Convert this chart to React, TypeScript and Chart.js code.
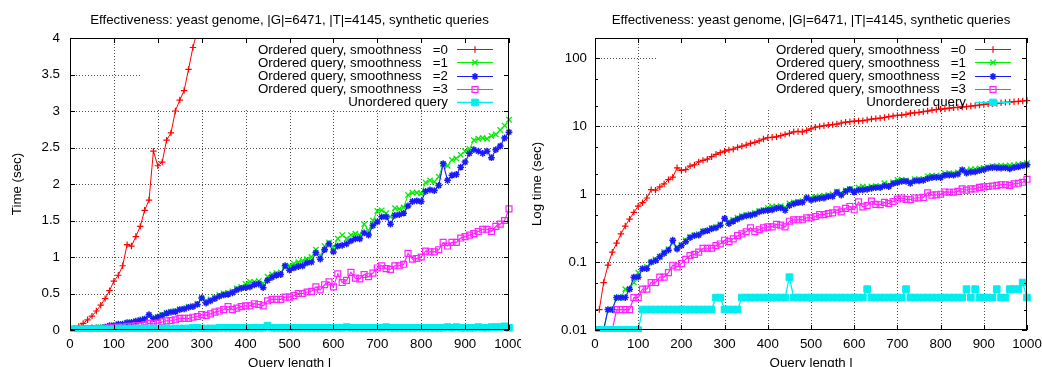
import React, { useEffect, useRef } from "react";
import { Chart, registerables } from "chart.js";

Chart.register(...registerables);

const FONT = '"Liberation Sans", Arial, Helvetica, sans-serif';
const FSIZE = 13.3;

const chartTitle = "Effectiveness: yeast genome, |G|=6471, |T|=4145, synthetic queries";
const xAxisTitle = "Query length l";
const yTitleLinear = "Time (sec)";
const yTitleLog = "Log time (sec)";

const queryLength = [
  10, 20, 30, 40, 50, 60, 70, 80, 90, 100,
  110, 120, 130, 140, 150, 160, 170, 180, 190, 200,
  210, 220, 230, 240, 250, 260, 270, 280, 290, 300,
  310, 320, 330, 340, 350, 360, 370, 380, 390, 400,
  410, 420, 430, 440, 450, 460, 470, 480, 490, 500,
  510, 520, 530, 540, 550, 560, 570, 580, 590, 600,
  610, 620, 630, 640, 650, 660, 670, 680, 690, 700,
  710, 720, 730, 740, 750, 760, 770, 780, 790, 800,
  810, 820, 830, 840, 850, 860, 870, 880, 890, 900,
  910, 920, 930, 940, 950, 960, 970, 980, 990, 1000,
];

const smoothness0 = [
  0.02, 0.05, 0.09, 0.14, 0.19, 0.26, 0.34, 0.43, 0.54, 0.67,
  0.75, 0.88, 1.17, 1.15, 1.28, 1.42, 1.64, 1.78, 2.45, 2.25,
  2.3, 2.6, 2.7, 3.0, 3.15, 3.28, 3.57, 3.87, 4.1, 4.3,
  4.5, 4.6, 4.9, 5.1, 5.3, 5.6, 5.8, 6.1, 6.5, 6.8,
  6.9, 7.0, 7.3, 7.6, 7.9, 8.3, 8.4, 8.3, 8.7, 9.2,
  9.7, 10.0, 10.2, 10.4, 10.6, 10.8, 11.2, 11.5, 11.7, 11.9,
  12.0, 12.1, 12.4, 12.8, 13.0, 13.2, 13.5, 13.9, 14.2, 14.5,
  14.6, 15.0, 15.6, 15.8, 16.1, 16.4, 16.8, 17.3, 17.6, 17.9,
  18.1, 18.5, 18.8, 19.0, 19.3, 19.5, 19.9, 20.2, 20.6, 21.0,
  21.2, 21.5, 21.8, 22.2, 22.5, 22.8, 23.0, 23.3, 23.6, 24.0,
];

const smoothness1 = [
  0.01, 0.01, 0.02, 0.02, 0.03, 0.03, 0.04, 0.04, 0.05, 0.07,
  0.08, 0.085, 0.1, 0.11, 0.12, 0.14, 0.155, 0.19, 0.165, 0.18,
  0.21, 0.235, 0.25, 0.26, 0.285, 0.29, 0.32, 0.33, 0.36, 0.43,
  0.4, 0.42, 0.45, 0.48, 0.5, 0.51, 0.53, 0.57, 0.59, 0.63,
  0.66, 0.66, 0.67, 0.64, 0.73, 0.76, 0.78, 0.79, 0.87, 0.88,
  0.91, 0.93, 0.95, 0.97, 1.0, 1.1, 1.02, 1.15, 1.2, 1.13,
  1.25, 1.3, 1.25, 1.3, 1.32, 1.3, 1.45, 1.36, 1.5, 1.63,
  1.64, 1.6, 1.55, 1.67, 1.66, 1.68, 1.85, 1.88, 1.88, 1.87,
  2.02, 2.05, 2.03, 2.1, 2.27, 2.25, 2.33, 2.35, 2.4, 2.45,
  2.48, 2.6, 2.62, 2.63, 2.62, 2.66, 2.68, 2.74, 2.8, 2.88,
];

const smoothness2 = [
  0.01, 0.01, 0.02, 0.02, 0.03, 0.03, 0.03, 0.04, 0.06, 0.06,
  0.08, 0.08, 0.1, 0.105, 0.12, 0.135, 0.15, 0.21, 0.156, 0.175,
  0.2, 0.23, 0.245, 0.25, 0.28, 0.29, 0.31, 0.32, 0.35, 0.44,
  0.37, 0.4, 0.43, 0.46, 0.48, 0.49, 0.51, 0.55, 0.57, 0.58,
  0.59, 0.62, 0.63, 0.58, 0.68, 0.72, 0.75, 0.76, 0.88, 0.82,
  0.85, 0.87, 0.88, 0.92, 0.93, 1.06, 0.97, 1.1, 1.18, 1.07,
  1.15, 1.16, 1.18, 1.22, 1.25, 1.25, 1.33, 1.3, 1.43, 1.48,
  1.55, 1.55, 1.45, 1.57, 1.58, 1.6, 1.7, 1.76, 1.77, 1.76,
  1.9, 1.92, 1.91, 1.98, 2.28, 2.05, 2.12, 2.13, 2.23, 2.3,
  2.42, 2.47, 2.45, 2.42, 2.45, 2.36, 2.47, 2.52, 2.63, 2.71,
];

const smoothness3 = [
  0.01, 0.01, 0.01, 0.01, 0.02, 0.02, 0.02, 0.02, 0.03, 0.03,
  0.04, 0.04, 0.05, 0.05, 0.06, 0.06, 0.07, 0.09, 0.085, 0.095,
  0.11, 0.125, 0.13, 0.14, 0.16, 0.16, 0.16, 0.175, 0.185, 0.21,
  0.2, 0.22, 0.245, 0.26, 0.28, 0.32, 0.28, 0.3, 0.32, 0.33,
  0.33, 0.36, 0.35, 0.33, 0.4, 0.42, 0.42, 0.42, 0.45, 0.45,
  0.47, 0.5, 0.5, 0.52, 0.53, 0.59, 0.55, 0.62, 0.66, 0.59,
  0.77, 0.65, 0.68, 0.79, 0.71, 0.7, 0.76, 0.73, 0.78, 0.85,
  0.88, 0.84, 0.83, 0.88, 0.88, 0.9, 1.05, 0.97, 0.98, 1.0,
  1.08, 1.07, 1.07, 1.1, 1.2, 1.15, 1.2, 1.2, 1.26, 1.28,
  1.3, 1.32, 1.35, 1.38, 1.38, 1.35, 1.42, 1.45, 1.5, 1.66,
];

const unorderedQuery = [
  0.01, 0.01, 0.01, 0.01, 0.01, 0.01, 0.01, 0.01, 0.01, 0.01,
  0.02, 0.02, 0.02, 0.02, 0.02, 0.02, 0.02, 0.02, 0.02, 0.02,
  0.02, 0.02, 0.02, 0.02, 0.02, 0.02, 0.02, 0.03, 0.03, 0.02,
  0.02, 0.02, 0.02, 0.03, 0.03, 0.03, 0.03, 0.03, 0.03, 0.03,
  0.03, 0.03, 0.03, 0.03, 0.06, 0.03, 0.03, 0.03, 0.03, 0.03,
  0.03, 0.03, 0.03, 0.03, 0.03, 0.03, 0.03, 0.03, 0.03, 0.03,
  0.03, 0.03, 0.04, 0.03, 0.03, 0.03, 0.03, 0.03, 0.03, 0.03,
  0.03, 0.04, 0.03, 0.03, 0.03, 0.03, 0.03, 0.03, 0.03, 0.03,
  0.03, 0.03, 0.03, 0.03, 0.03, 0.04, 0.03, 0.04, 0.03, 0.03,
  0.03, 0.03, 0.04, 0.03, 0.03, 0.04, 0.04, 0.04, 0.05, 0.03,
];

const seriesLabels = [
  "Ordered query, smoothness   =0",
  "Ordered query, smoothness   =1",
  "Ordered query, smoothness   =2",
  "Ordered query, smoothness   =3",
  "Unordered query",
];
const seriesValues = [smoothness0, smoothness1, smoothness2, smoothness3, unorderedQuery];

const xTickValues = [0, 100, 200, 300, 400, 500, 600, 700, 800, 900, 1000];
const linearYTicks = [0, 0.5, 1, 1.5, 2, 2.5, 3, 3.5, 4];
const logYTicks = [0.01, 0.1, 1, 10, 100];
const logMinorTicks = [0.02, 0.05, 0.2, 0.5, 2, 5, 20, 50];

// styling (not data)
const seriesColors = ["#ff0000", "#00ee00", "#1a1aff", "#ff22ff", "#00eeee"];
const seriesPoint = ["cross", "crossRot", "star", "rect", "rect"];
const seriesRadius = [3.2, 3.8, 3.4, 4.2, 4.7];
const seriesFilled = [false, false, false, false, true];
const seriesPointWidth = [1.2, 1.3, 1.5, 1.2, 1];
const seriesLineWidth = [1, 1, 1.1, 1.2, 1.3];

function drawMarker(ctx: CanvasRenderingContext2D, style: string, x: number, y: number, r: number, color: string, filled: boolean, lw: number) {
  ctx.save();
  ctx.strokeStyle = color;
  ctx.fillStyle = color;
  ctx.lineWidth = lw;
  ctx.beginPath();
  if (style === "cross" || style === "star") {
    ctx.moveTo(x - r, y);
    ctx.lineTo(x + r, y);
    ctx.moveTo(x, y - r);
    ctx.lineTo(x, y + r);
  }
  if (style === "crossRot" || style === "star") {
    const d = r * Math.SQRT1_2;
    ctx.moveTo(x - d, y - d);
    ctx.lineTo(x + d, y + d);
    ctx.moveTo(x - d, y + d);
    ctx.lineTo(x + d, y - d);
  }
  if (style === "rect") {
    const s = r * Math.SQRT1_2;
    ctx.rect(x - s, y - s, 2 * s, 2 * s);
    if (filled) ctx.fill();
  }
  ctx.stroke();
  ctx.restore();
}

type PanelCfg = {
  yTitle: string;
  yTitleX: number;
  majorY: number[];
  minorY: number[];
  keyWidth: number;
};

function makePlugin(cfg: PanelCfg) {
  return {
    id: "gnuplotLook",
    beforeDatasetsDraw(chart: any) {
      const { ctx, chartArea: a, scales } = chart;
      const xs = scales.x;
      const ys = scales.y;
      ctx.save();
      ctx.strokeStyle = "rgba(0,0,0,0.7)";
      ctx.lineWidth = 1;
      ctx.setLineDash([1, 2]);
      ctx.beginPath();
      for (const v of xTickValues) {
        if (v <= xs.min || v >= xs.max) continue;
        const p = Math.round(xs.getPixelForValue(v)) + 0.5;
        ctx.moveTo(p, a.top);
        ctx.lineTo(p, a.bottom);
      }
      for (const v of cfg.majorY) {
        if (v <= ys.min || v >= ys.max) continue;
        const p = Math.round(ys.getPixelForValue(v)) + 0.5;
        ctx.moveTo(a.left, p);
        ctx.lineTo(a.right, p);
      }
      ctx.stroke();
      ctx.setLineDash([]);
      ctx.fillStyle = "#ffffff";
      ctx.fillRect(a.right - cfg.keyWidth, a.top, cfg.keyWidth, 70.5);
      ctx.restore();
    },
    afterDatasetsDraw(chart: any) {
      const { ctx, chartArea: a, scales } = chart;
      const xs = scales.x;
      const ys = scales.y;
      ctx.save();
      // border
      ctx.strokeStyle = "#000";
      ctx.lineWidth = 1;
      ctx.strokeRect(a.left + 0.5, a.top + 0.5, a.right - a.left - 1, a.bottom - a.top - 1);
      // inward ticks on all four sides
      ctx.beginPath();
      for (const v of xTickValues) {
        const p = Math.round(xs.getPixelForValue(v)) + 0.5;
        ctx.moveTo(p, a.bottom);
        ctx.lineTo(p, a.bottom - 5);
        ctx.moveTo(p, a.top);
        ctx.lineTo(p, a.top + 5);
      }
      for (const v of cfg.majorY) {
        const p = Math.round(ys.getPixelForValue(v)) + 0.5;
        ctx.moveTo(a.left, p);
        ctx.lineTo(a.left + 5, p);
        ctx.moveTo(a.right, p);
        ctx.lineTo(a.right - 5, p);
      }
      for (const v of cfg.minorY) {
        const p = Math.round(ys.getPixelForValue(v)) + 0.5;
        ctx.moveTo(a.left, p);
        ctx.lineTo(a.left + 3, p);
        ctx.moveTo(a.right, p);
        ctx.lineTo(a.right - 3, p);
      }
      ctx.stroke();

      // key
      ctx.font = `${FSIZE}px ${FONT}`;
      ctx.textBaseline = "alphabetic";
      ctx.textAlign = "right";
      for (let i = 0; i < seriesLabels.length; i++) {
        const ly = Math.round(a.top + 11.3 + i * 13.1) + 0.5;
        const tx = a.right - 61;
        ctx.fillStyle = "#000";
        ctx.fillText(seriesLabels[i], tx, a.top + 16 + i * 13.1);
        ctx.strokeStyle = seriesColors[i];
        ctx.lineWidth = seriesLineWidth[i];
        ctx.beginPath();
        ctx.moveTo(tx + 9, ly);
        ctx.lineTo(tx + 45, ly);
        ctx.stroke();
        drawMarker(ctx, seriesPoint[i], tx + 27, ly, seriesRadius[i], seriesColors[i], seriesFilled[i], seriesPointWidth[i]);
      }

      // titles
      ctx.fillStyle = "#000";
      ctx.textAlign = "center";
      ctx.textBaseline = "alphabetic";
      const cx = (a.left + a.right) / 2;
      ctx.fillText(chartTitle, cx, 23.5);
      ctx.fillText(xAxisTitle, cx, 366.5);
      ctx.textBaseline = "middle";
      ctx.translate(cfg.yTitleX, (a.top + a.bottom) / 2);
      ctx.rotate(-Math.PI / 2);
      ctx.fillText(cfg.yTitle, 0, 0);
      ctx.restore();
    },
  };
}

function Panel({ log, left }: { log: boolean; left: number }) {
  const ref = useRef<HTMLCanvasElement>(null);
  useEffect(() => {
    const canvas = ref.current;
    if (!canvas) return;
    const cfg: PanelCfg = log
      ? { yTitle: yTitleLog, yTitleX: 16, majorY: logYTicks, minorY: logMinorTicks, keyWidth: 370 }
      : { yTitle: yTitleLinear, yTitleX: 17.5, majorY: linearYTicks, minorY: [], keyWidth: 369 };
    const yWidth = log ? 74 : 70;
    const rightPad = log ? 15 : 12;

    const datasets = seriesValues.map((vals, i) => ({
      label: seriesLabels[i],
      data: queryLength.map((x, j) => ({ x, y: vals[j] })),
      borderColor: seriesColors[i],
      backgroundColor: seriesFilled[i] ? seriesColors[i] : "rgba(0,0,0,0)",
      pointBackgroundColor: seriesFilled[i] ? seriesColors[i] : "rgba(0,0,0,0)",
      pointBorderColor: seriesColors[i],
      pointStyle: seriesPoint[i],
      pointRadius: seriesRadius[i],
      pointBorderWidth: seriesPointWidth[i],
      borderWidth: seriesLineWidth[i],
      tension: 0,
      fill: false,
      clip: { left: 5, right: 5, top: 0, bottom: 2 },
      order: seriesLabels.length - i,
    }));

    const tickFont = { family: FONT, size: FSIZE };
    const yScale: any = log
      ? {
          type: "logarithmic",
          min: 0.01,
          max: 200,
          afterBuildTicks: (s: any) => {
            s.ticks = logYTicks.map((v) => ({ value: v }));
          },
          ticks: { autoSkip: false, padding: 8, color: "#000", font: tickFont, callback: (v: any) => String(v) },
        }
      : {
          type: "linear",
          min: 0,
          max: 4,
          afterBuildTicks: (s: any) => {
            s.ticks = linearYTicks.map((v) => ({ value: v }));
          },
          ticks: { autoSkip: false, padding: 10, color: "#000", font: tickFont, callback: (v: any) => String(v) },
        };
    yScale.grid = { display: false, drawTicks: false };
    yScale.border = { display: false };
    yScale.afterFit = (s: any) => {
      s.width = yWidth;
      s.paddingTop = 0;
      s.paddingBottom = 0;
    };

    const chart = new Chart(canvas, {
      type: "line",
      data: { datasets } as any,
      options: {
        responsive: false,
        animation: false,
        events: [],
        layout: { padding: { left: 0, right: rightPad, top: 38, bottom: 0 } },
        plugins: { legend: { display: false }, title: { display: false }, tooltip: { enabled: false } },
        scales: {
          x: {
            type: "linear",
            min: 0,
            max: 1000,
            afterBuildTicks: (s: any) => {
              s.ticks = xTickValues.map((v) => ({ value: v }));
            },
            ticks: { autoSkip: false, maxRotation: 0, padding: 6, color: "#000", font: tickFont, callback: (v: any) => String(v) },
            grid: { display: false, drawTicks: false },
            border: { display: false },
            afterFit: (s: any) => {
              s.height = 37;
              s.paddingLeft = 0;
              s.paddingRight = 0;
            },
          } as any,
          y: yScale,
        },
      },
      plugins: [makePlugin(cfg)],
    } as any);
    return () => chart.destroy();
  }, [log]);
  return (
    <canvas
      ref={ref}
      width={521}
      height={367}
      style={{ position: "absolute", left, top: 0, width: 521, height: 367, display: "block" }}
    />
  );
}

export default function App() {
  return (
    <div style={{ position: "absolute", left: 0, top: 0, width: 1042, height: 367, background: "#fff", overflow: "hidden" }}>
      <Panel log={false} left={0} />
      <Panel log={true} left={521} />
    </div>
  );
}
